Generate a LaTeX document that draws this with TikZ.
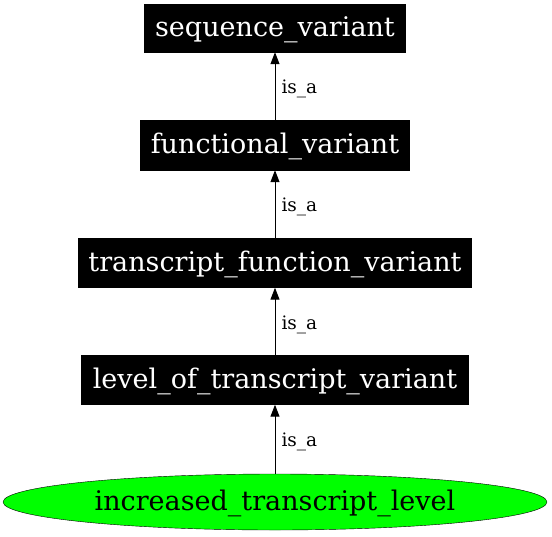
\documentclass[tikz,border=0pt]{standalone}
\usepackage{fontspec}
\setmainfont{DejaVu Serif}
\usetikzlibrary{shapes.geometric,arrows.meta}
\begin{document}
\begin{tikzpicture}[x=1pt,y=-1pt,
  term/.style={rectangle,fill=black,draw=black,text=white,inner sep=0pt,text height=21pt,text depth=5pt,font=\fontsize{27}{32}\selectfont},
  leaf/.style={ellipse,fill=green,draw=black,inner sep=0pt,text height=21pt,text depth=5pt,font=\fontsize{27}{32}\selectfont},
  isa/.style={-{Triangle[length=12pt,width=9pt]},black,line width=1pt},
  lab/.style={font=\fontsize{18.5}{22}\selectfont,anchor=west,inner sep=0pt,xshift=6pt,yshift=-3pt}]
\useasboundingbox (0,0) rectangle (552,536);
\node[term,minimum width=261pt,minimum height=48pt] (sv) at (275,28) {sequence\_variant};
\node[term,minimum width=269pt,minimum height=50pt] (fv) at (275,145) {functional\_variant};
\node[term,minimum width=393pt,minimum height=49pt] (tfv) at (275,263) {transcript\_function\_variant};
\node[term,minimum width=387pt,minimum height=49pt] (ltv) at (275,380) {level\_of\_transcript\_variant};
\node[leaf,minimum width=544pt,minimum height=56pt] (itl) at (275,502) {increased\_transcript\_level};
\draw[isa] (fv.north) -- node[lab]{is\_a} (sv.south);
\draw[isa] (tfv.north) -- node[lab]{is\_a} (fv.south);
\draw[isa] (ltv.north) -- node[lab]{is\_a} (tfv.south);
\draw[isa] (itl.north) -- node[lab]{is\_a} (ltv.south);
\end{tikzpicture}
\end{document}
